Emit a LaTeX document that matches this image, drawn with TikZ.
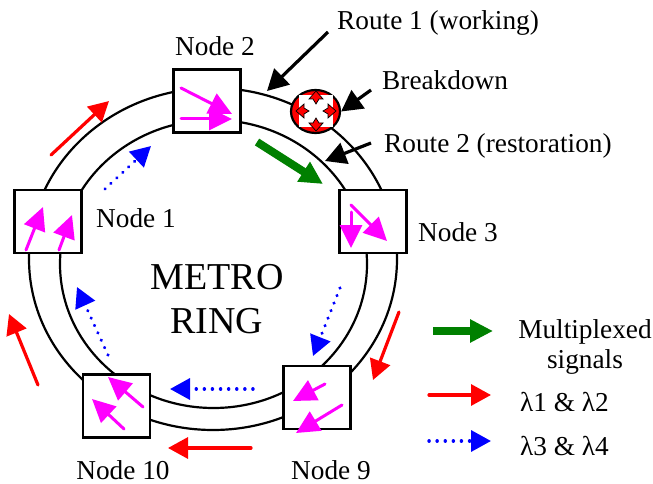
\documentclass[tikz,border=0pt]{standalone}
\usepackage{fontspec}
\setmainfont{Liberation Serif}
\usetikzlibrary{calc, arrows.meta, shapes.geometric}
\definecolor{sigGreen}{RGB}{0,128,0}
\definecolor{chanPink}{RGB}{255,0,255}
\definecolor{sigRed}{RGB}{255,0,0}
\definecolor{sigBlue}{RGB}{0,0,255}
\tikzset{
    boxnode/.style={draw=black, fill=white, line width=2.4, minimum width=67, minimum height=63, inner sep=0},
    lbl/.style={font=\fontsize{27.3}{30}\selectfont, inner sep=0},
    ringline/.style={line width=2.2},
    chan/.style={line width=3, line cap=round, chanPink, -{Triangle[length=23,width=22]}},
    red line/.style={line width=3.2, sigRed, line cap=round, -{Triangle[length=20,width=21]}},
    blue line/.style={line width=3.4, sigBlue, dash pattern=on 0.1 off 8, line cap=round, -{Triangle[length=20,width=21]}},
    green line/.style={line width=8, sigGreen, -{Triangle[length=23,width=22]}},
    pointer/.style={line width=3.2, black, -{Triangle[length=21,width=22]}}
}
\begin{document}
\begin{tikzpicture}[x=1pt,y=-1pt]
    \useasboundingbox (0,0) rectangle (653,484);
    % ring
    \draw[ringline] (213,259) ellipse (184 and 171);
    \draw[ringline] (213.5,264) ellipse (153.5 and 144);
    % boxes
    \node[boxnode] (node1) at (48,221.5) {};
    \node[boxnode] (node2) at (207,101) {};
    \node[boxnode] (node3) at (373,221.5) {};
    \node[boxnode] (node9) at (317,397.5) {};
    \node[boxnode] (node10) at (116.5,406) {};
    % channels in the boxes
    \foreach \a/\b/\c/\d in {181/88/232/114, 181/119/232/119, 26/250/43/207, 59/250/72/215,
        351/205/387/241, 351/212/351/248, 325/384/293/401, 342/405/296/433,
        143/407/108/377, 124/429/92/399}{
        \draw[chan] (\a,\b) -- (\c,\d);
    }
    % lambda 1 and 2
    \foreach \a/\b/\c/\d in {51/155/109/101, 399/312/373/380, 251/448/168/448, 38/385/9/314, 429/395/491/395}{
        \draw[red line] (\a,\b) -- (\c,\d);
    }
    % lambda 3 and 4
    \foreach \a/\b/\c/\d in {105/189/151/146, 340/288/313/356, 253/389/170/389, 108/355/77/287, 429/441/491/441}{
        \draw[blue line] (\a,\b) -- (\c,\d);
    }
    \draw[green line] (257,142) -- (323,184);
    \draw[green line] (433,331) -- (493,331);
    % breakdown
    \node[draw=black, fill=sigRed, ellipse, line width=2.2, minimum width=49, minimum height=43, inner sep=0] (fault) at (315.5,111.5) {};
    \begin{scope}[shift={(316,111)}]
        \fill[white] (-17,-16) rectangle (17,16);
        \foreach \r in {0,90,180,270}{
            \begin{scope}[rotate=\r]
                \fill[sigRed, draw=black, line width=0.7] (0,-7) -- (-3,-12) -- (-7,-12) -- (0,-20) -- (7,-12) -- (3,-12) -- cycle;
            \end{scope}
        }
    \end{scope}
    % pointers
    \coordinate (route1tip) at (267,91);
    \coordinate (route1end) at (328,32);
    \coordinate (route2tip) at (325,161);
    \coordinate (route2end) at (371,143);
    \coordinate (faultend) at (371,90);
    \draw[pointer] (route1end) -- (route1tip);
    \draw[pointer] (route2end) -- (route2tip);
    \draw[pointer] (faultend) -- (fault.east);
    % labels
    \node[lbl] (lnode2) at (215,46) {Node 2};
    \node[lbl] (lnode1) at (136,218) {Node 1};
    \node[lbl] (lnode3) at (458,232) {Node 3};
    \node[lbl] (lnode9) at (331,470) {Node 9};
    \node[lbl] (lnode10) at (123,470) {Node 10};
    \node[lbl, anchor=west] (lroute1) at (337,23) {Route 1 (working)};
    \node[lbl, anchor=west] (lfault) at (382,80) {Breakdown};
    \node[lbl, anchor=west] (lroute2) at (384,146) {Route 2 (restoration)};
    \node[font=\fontsize{38}{44}\selectfont, align=center, inner sep=0] (lmetro) at (217,299.5) {METRO\\RING};
    \node[lbl, align=center] (lmux) at (585,347) {Multiplexed\\signals};
    \node[lbl, anchor=west] (llam1) at (520,402) {λ1 \& λ2};
    \node[lbl, anchor=west] (llam3) at (520,446) {λ3 \& λ4};
\end{tikzpicture}
\end{document}
